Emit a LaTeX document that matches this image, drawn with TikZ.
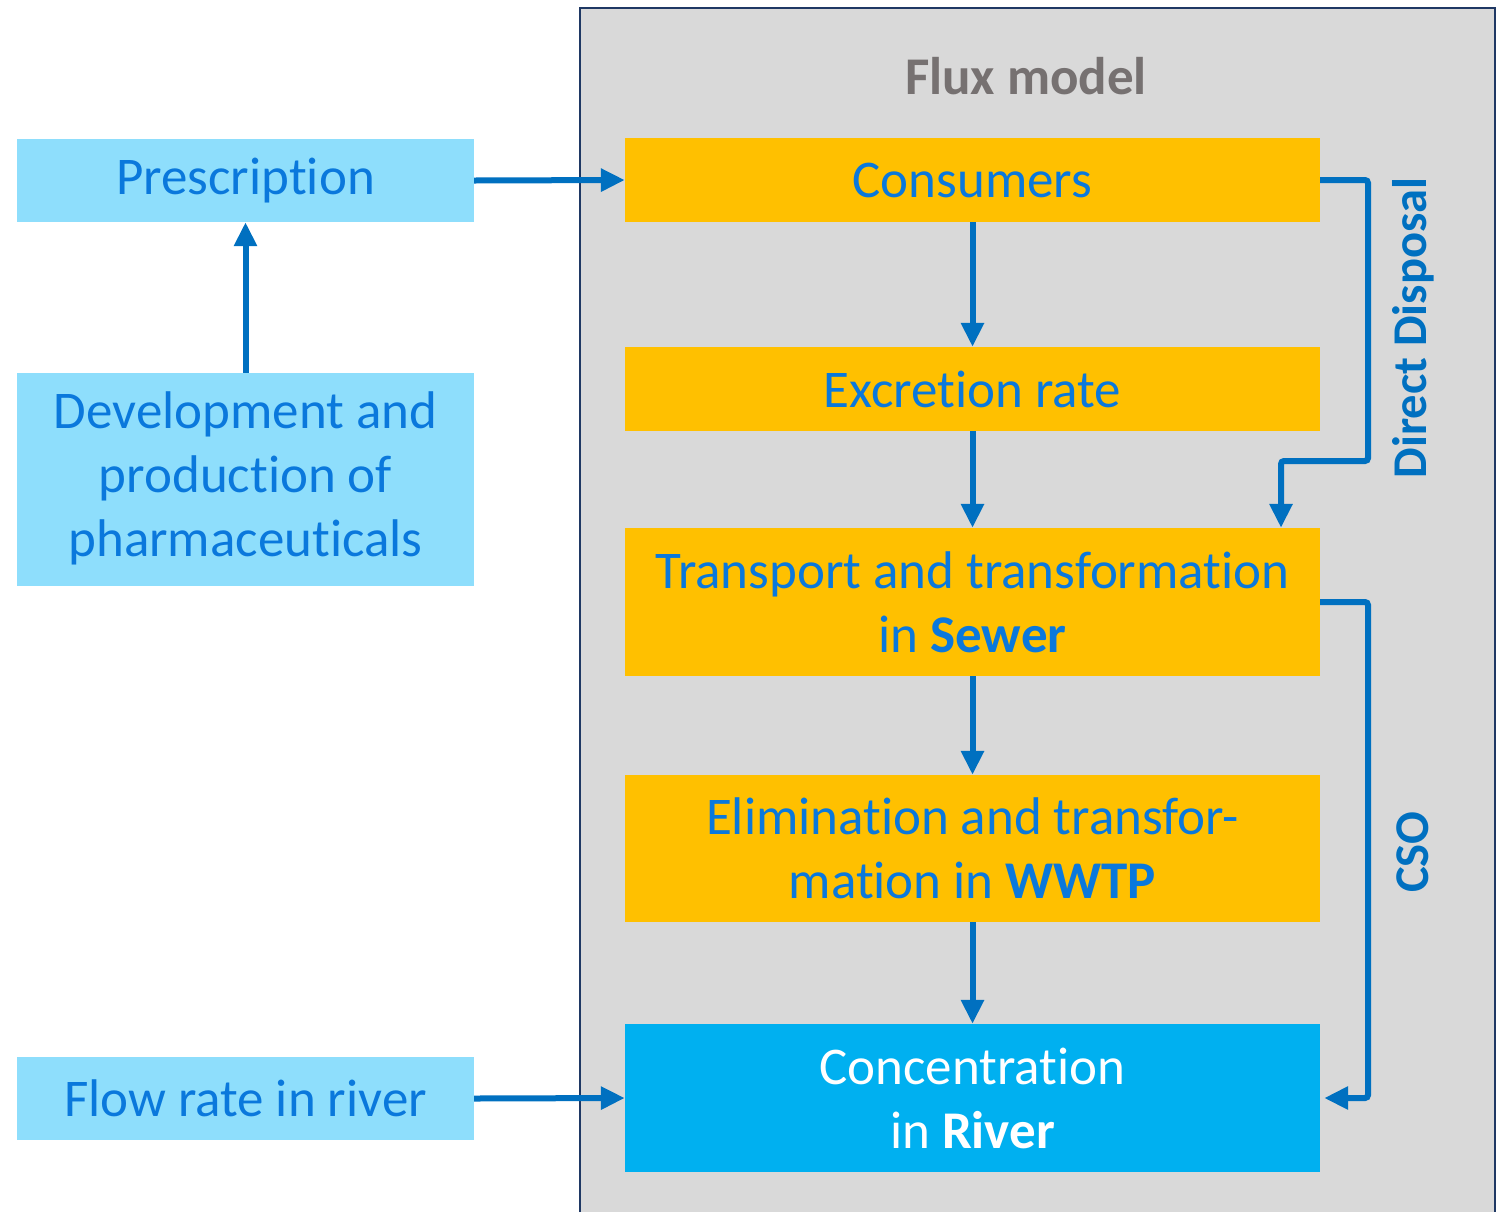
\documentclass[tikz,border=0pt]{standalone}
\usepackage{fontspec}
\setmainfont[Ligatures=NoCommon]{Carlito}
\usetikzlibrary{arrows.meta}
\definecolor{panelgray}{HTML}{D9D9D9}
\definecolor{panelborder}{HTML}{1F3864}
\definecolor{lightcyan}{HTML}{8EDEFC}
\definecolor{amber}{HTML}{FFC000}
\definecolor{riverblue}{HTML}{00B0F0}
\definecolor{textblue}{HTML}{0A78DC}
\definecolor{arrowblue}{HTML}{0070C0}
\definecolor{titlegray}{HTML}{767171}
\begin{document}
\begin{tikzpicture}[x=1bp,y=-1bp,
  box/.style={rectangle, inner sep=0pt, align=center, text=textblue,
    font=\fontsize{53bp}{64bp}\selectfont},
  inputbox/.style={box, fill=lightcyan, minimum width=457bp},
  stagebox/.style={box, fill=amber, minimum width=695bp},
  riverbox/.style={box, fill=riverblue, minimum width=695bp, text=white},
  flow/.style={draw=arrowblue, line width=6bp, rounded corners=3bp,
    -{Triangle[length=24bp,width=22bp]}},
  sidelabel/.style={rotate=90, text=arrowblue,
    font=\fontsize{48.5bp}{58bp}\selectfont\bfseries}
]
\useasboundingbox (0,0) rectangle (1509,1212);
% model panel, open at the bottom
\fill[panelgray] (580,8) rectangle (1495,1212);
\draw[panelborder, line width=2bp] (580,1212) -- (580,8) -- (1495,8) -- (1495,1212);
\node[text=titlegray, font=\fontsize{53bp}{64bp}\selectfont\bfseries] (title) at (1026,76) {Flux model};

% input boxes
\node[inputbox, minimum height=83bp] (presc) at (245.5,180.5) {\raisebox{-3bp}{Prescription}};
\node[inputbox, minimum height=213bp] (devel) at (245.5,479.5) {\raisebox{-3bp}{\begin{tabular}{@{}c@{}}Development and\\production of\\pharmaceuticals\end{tabular}}};
\node[inputbox, minimum height=83bp] (flowrate) at (245.5,1098.5) {\raisebox{-3bp}{Flow rate in river}};

% model stages
\node[stagebox, minimum height=84bp] (cons) at (972.5,180) {\raisebox{-3bp}{Consumers}};
\node[stagebox, minimum height=84bp] (excr) at (972.5,389) {\raisebox{-3bp}{Excretion rate}};
\node[stagebox, minimum height=148bp] (sewer) at (972.5,602) {Transport and transformation\\in \textbf{Sewer}};
\node[stagebox, minimum height=147bp] (wwtp) at (972.5,848.5) {Elimination and transfor-\\mation in \textbf{WWTP}};
\node[riverbox, minimum height=148bp] (river) at (972.5,1098) {Concentration\\in \textbf{River}};

% connectors
\draw[flow] (presc.east) -- (cons.west);
\draw[flow] (devel.north) -- (presc.south);
\draw[flow] (cons.south) -- (excr.north);
\draw[flow] (excr.south) -- (sewer.north);
\draw[flow] (sewer.south) -- (wwtp.north);
\draw[flow] (wwtp.south) -- (river.north);
\draw[flow] (flowrate.east) -- (river.west);

% bypass routes
\coordinate (ddturn) at (1281,461);
\draw[flow] (cons.east) -- (1368,180) -- (1368,461) -- (ddturn) -- (ddturn |- sewer.north);
\draw[flow] (sewer.east) -- (1368,602) -- (1368,1098) -- ([xshift=4bp]river.east);

\node[sidelabel] (ddlabel) at (1413,328) {Direct Disposal};
\node[sidelabel] (csolabel) at (1413,852) {CSO};
\end{tikzpicture}
\end{document}
